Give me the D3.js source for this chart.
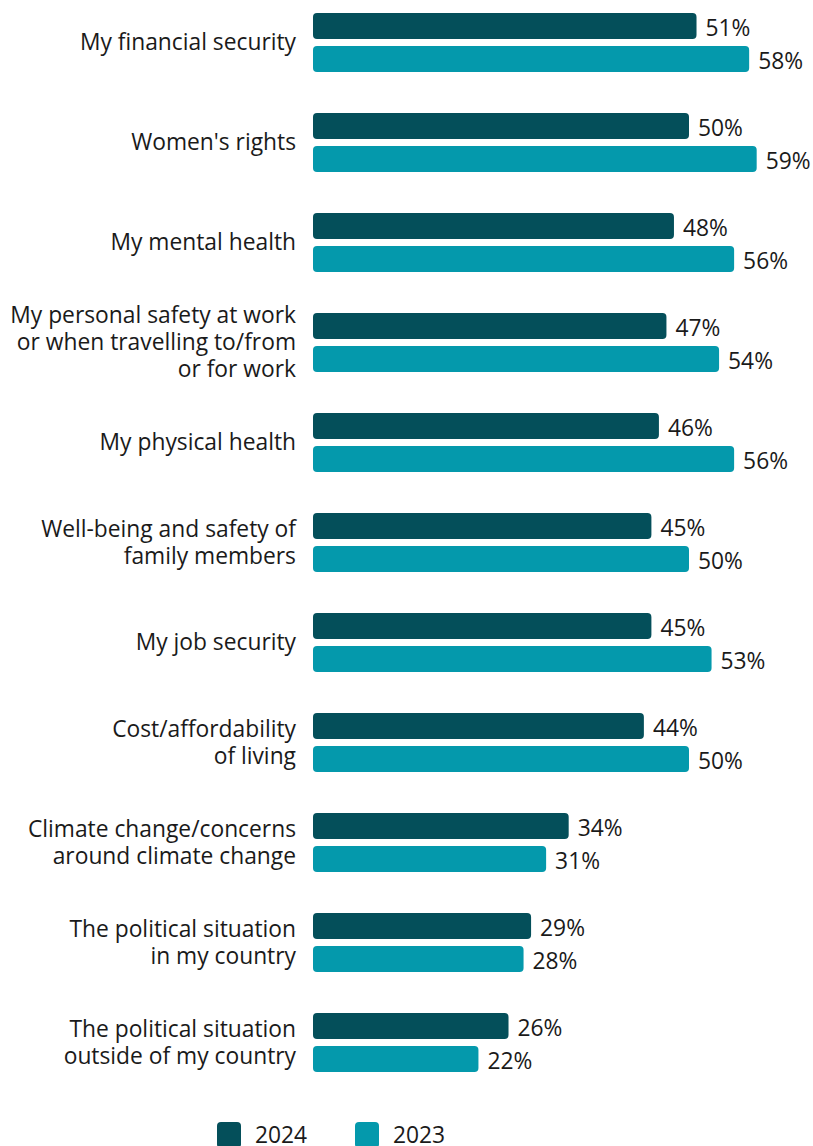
<!DOCTYPE html>
<html><head><meta charset="utf-8">
<script src="https://cdn.jsdelivr.net/npm/d3@7"></script>
<style>body{margin:0;background:#fff;} text{font-family:"Open Sans",sans-serif;}</style>
</head><body>
<svg id="chart" width="813" height="1146"></svg>
<script>
const categories = [
  ["My financial security"],
  ["Women's rights"],
  ["My mental health"],
  ["My personal safety at work","or when travelling to/from","or for work"],
  ["My physical health"],
  ["Well-being and safety of","family members"],
  ["My job security"],
  ["Cost/affordability","of living"],
  ["Climate change/concerns","around climate change"],
  ["The political situation","in my country"],
  ["The political situation","outside of my country"]
];
const values2024 = [51,50,48,47,46,45,45,44,34,29,26];
const values2023 = [58,59,56,54,56,50,53,50,31,28,22];
const seriesNames = ["2024","2023"];
const colors = ["#044f5a","#0499ac"];

(function(){
const svg = d3.select("#chart");
const x0 = 313;
const x = d3.scaleLinear().domain([0,100]).range([x0, x0+752]);
const yGroup = d3.scaleBand().domain(d3.range(categories.length)).range([0,1100]).paddingInner(0).paddingOuter(0);
const barH = 26, gap = 7, topY = 13;
const fs = 22.8;

const g = svg.append("g");
categories.forEach((lines,i)=>{
  const gy = topY + yGroup(i);
  const vals = [values2024[i], values2023[i]];
  vals.forEach((v,s)=>{
    const y = gy + s*(barH+gap);
    g.append("rect").attr("x",x(0)).attr("y",y).attr("width",x(v)-x(0)).attr("height",barH)
      .attr("rx",4).attr("fill",colors[s]);
    g.append("text").attr("x",x(v)+9).attr("y",y+barH/2).attr("dy","0.42em")
      .attr("font-size",fs).attr("fill","#1a1a1a").text(v+"%");
  });
  const cy = gy + (2*barH+gap)/2;
  const lh = 27;
  const t = g.append("text").attr("text-anchor","end").attr("font-size",fs).attr("fill","#1a1a1a");
  lines.forEach((ln,k)=>{
    t.append("tspan").attr("x",296).attr("y",cy + (k-(lines.length-1)/2)*lh).attr("dy","0.35em").text(ln);
  });
});

const leg = svg.append("g");
const legX = [217, 355];
seriesNames.forEach((n,s)=>{
  leg.append("rect").attr("x",legX[s]).attr("y",1122).attr("width",24).attr("height",26).attr("rx",4).attr("fill",colors[s]);
  leg.append("text").attr("x",legX[s]+38).attr("y",1134).attr("dy","0.38em").attr("font-size",fs).attr("fill","#1a1a1a").text(n);
});
})();
</script>
</body></html>
